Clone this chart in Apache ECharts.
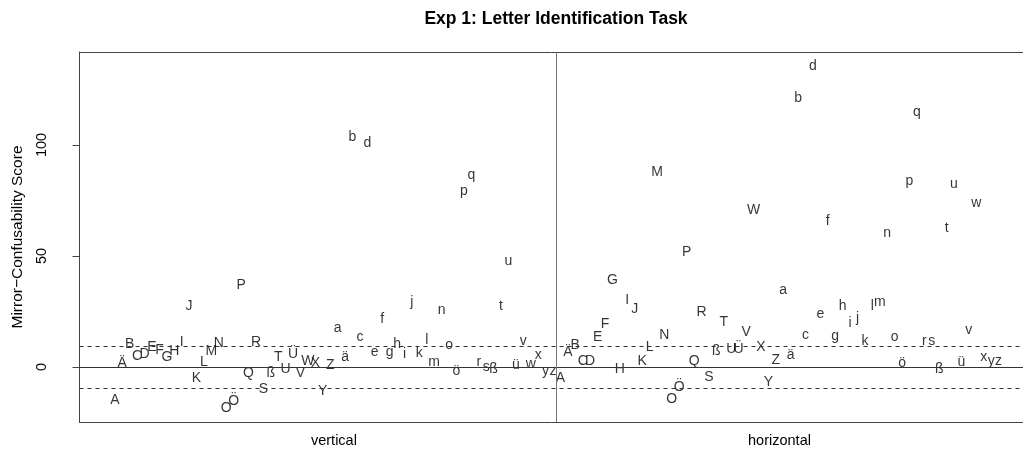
<!DOCTYPE html>
<html>
<head>
<meta charset="utf-8">
<script src="https://cdn.jsdelivr.net/npm/echarts@6/dist/echarts.min.js"></script>
<style>
  html, body { margin: 0; padding: 0; background: #fff; }
  #chart { width: 1023px; height: 453px; }
</style>
</head>
<body>
<div id="chart"></div>
<script>
// Letter order along the x axis (uppercase block, then lowercase block)
const letters = ['A','Ä','B','C','D','E','F','G','H','I','J','K','L','M','N','O','Ö','P','Q','R','S','ß','T','U','Ü','V','W','X','Y','Z',
                 'a','ä','b','c','d','e','f','g','h','i','j','k','l','m','n','o','ö','p','q','r','s','ß','t','u','ü','v','w','x','y','z'];

// Mirror-confusability score per letter, vertical mirroring
const verticalScores = [-14.9, 1.5, 10.4, 5.0, 5.9, 9.1, 7.7, 4.6, 6.9, 11.0, 27.5, -5.1, 2.3, 6.9, 10.7, -18.6, -15.4, 36.9, -2.6, 11.4, -10.1, -2.6, 4.4, -1.0, 5.9, -2.9, 2.4, 1.7, -10.9, 0.7,
                        17.7, 4.4, 103.6, 13.6, 100.7, 6.8, 21.6, 6.6, 10.2, 5.7, 29.1, 6.4, 12.0, 2.1, 25.5, 9.9, -1.8, 79.0, 86.5, 2.1, 0.0, -0.9, 27.6, 47.7, 0.6, 11.7, 1.2, 5.1, -2.1, -2.1];

// Mirror-confusability score per letter, horizontal mirroring
const horizontalScores = [-5.1, 6.6, 9.9, 2.4, 2.7, 13.4, 19.4, 38.9, -0.9, 29.9, 26.0, 2.4, 9.1, 87.8, 14.4, -14.4, -9.1, 51.8, 2.4, 24.6, -4.8, 6.9, 20.0, 8.0, 8.0, 15.5, 70.7, 8.9, -7.0, 3.0,
                          34.7, 5.1, 121.0, 14.4, 135.7, 23.9, 65.5, 14.0, 27.6, 19.7, 22.2, 11.7, 27.6, 29.4, 60.2, 13.6, 1.9, 83.5, 114.7, 11.7, 11.7, -1.0, 62.7, 82.4, 2.1, 16.5, 73.7, 4.2, 2.7, 2.7];

const panelNames = ['vertical', 'horizontal'];
const yTicks = [0, 50, 100];
const band = 9.4;   // dashed reference band around zero

const n = letters.length;
const panelCenters = [(n + 1) / 2, n + (n + 1) / 2];
const divider = n + 0.5;

const FONT = 'Liberation Sans, Arial, sans-serif';
const FRAME = '#444';

function panelData(scores, offset) {
  return scores.map((v, i) => [offset + i + 1, v, letters[i]]);
}

const letterLabel = {
  show: true,
  position: 'inside',
  formatter: p => p.value[2],
  color: '#000',
  fontFamily: FONT,
  fontSize: 14
};

const chart = echarts.init(document.getElementById('chart'), null, { renderer: 'canvas' });

chart.setOption({
  animation: false,
  backgroundColor: '#fff',
  title: {
    text: 'Exp 1: Letter Identification Task',
    left: 551,
    top: 5,
    textAlign: 'center',
    textStyle: { fontFamily: FONT, fontSize: 17.5, fontWeight: 'bold', color: '#000' }
  },
  grid: {
    left: 79.5,
    right: 0,
    top: 52,
    bottom: 31,
    show: false
  },
  xAxis: [
    {
      type: 'value',
      position: 'bottom',
      min: -3.76,
      max: 123.29,
      splitLine: { show: false },
      axisLine: { show: true, onZero: false, lineStyle: { color: FRAME, width: 1 } },
      axisTick: { show: false },
      axisLabel: {
        customValues: panelCenters,
        formatter: v => panelNames[panelCenters.indexOf(v)] || '',
        margin: 11,
        color: '#000',
        fontFamily: FONT,
        fontSize: 14.5
      }
    },
    {
      type: 'value',
      position: 'top',
      min: -3.76,
      max: 123.29,
      splitLine: { show: false },
      axisLine: { show: true, onZero: false, lineStyle: { color: FRAME, width: 1 } },
      axisTick: { show: false },
      axisLabel: { show: false }
    }
  ],
  yAxis: {
    type: 'value',
    min: -24.8,
    max: 141.9,
    name: 'Mirror\u2212Confusability Score',
    nameLocation: 'middle',
    nameGap: 54,
    nameTextStyle: { fontFamily: FONT, fontSize: 15.5, color: '#000' },
    splitLine: { show: false },
    axisLine: { show: true, onZero: false, lineStyle: { color: FRAME, width: 1 } },
    axisTick: {
      show: true,
      customValues: yTicks,
      length: 7,
      lineStyle: { color: FRAME }
    },
    axisLabel: {
      customValues: yTicks,
      rotate: 90,
      margin: 30,
      color: '#000',
      fontFamily: FONT,
      fontSize: 14.5
    }
  },
  series: [
    {
      name: 'vertical',
      type: 'scatter',
      symbolSize: 2,
      itemStyle: { color: 'rgba(0,0,0,0)' },
      label: letterLabel,
      data: panelData(verticalScores, 0),
      markLine: {
        silent: true,
        symbol: 'none',
        label: { show: false },
        data: [
          { yAxis: 0, lineStyle: { type: 'solid', color: '#333', width: 1 } },
          { yAxis: band, lineStyle: { type: [4, 4], color: '#333', width: 1 } },
          { yAxis: -band, lineStyle: { type: [4, 4], color: '#333', width: 1 } },
          { xAxis: divider, lineStyle: { type: 'solid', color: '#777', width: 1 } }
        ]
      }
    },
    {
      name: 'horizontal',
      type: 'scatter',
      symbolSize: 2,
      itemStyle: { color: 'rgba(0,0,0,0)' },
      label: letterLabel,
      data: panelData(horizontalScores, n)
    }
  ]
});
</script>
</body>
</html>
